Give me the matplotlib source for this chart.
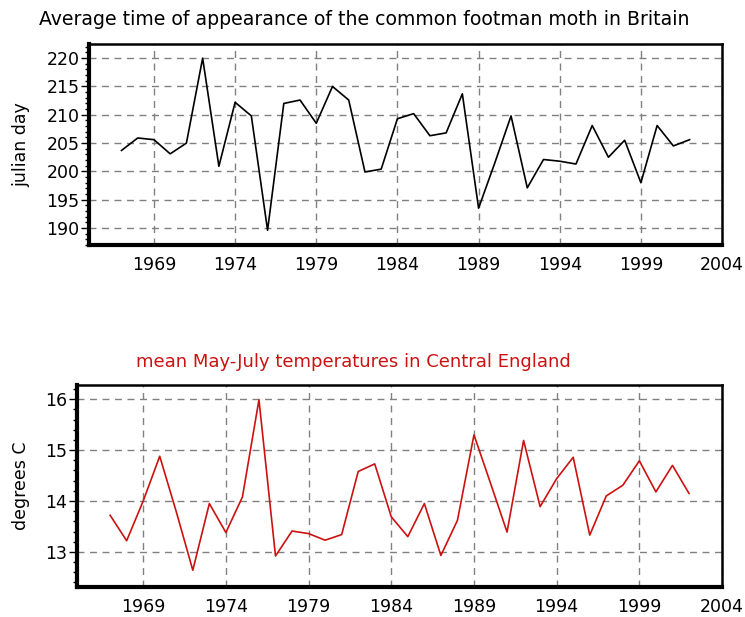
import matplotlib
matplotlib.use("Agg")
from matplotlib import pyplot as plt
from matplotlib.ticker import MultipleLocator

years = list(range(1967, 2003))

# mean day of first appearance (julian day)
julian_day = [203.7, 205.9, 205.6, 203.1, 205.0, 220.0, 200.9, 212.2, 209.8, 189.6,
              212.0, 212.6, 208.5, 215.0, 212.6, 199.9, 200.4, 209.3, 210.2, 206.3,
              206.8, 213.7, 193.5, 201.5, 209.8, 197.1, 202.1, 201.8, 201.3, 208.1,
              202.5, 205.5, 198.0, 208.1, 204.5, 205.6]

# mean May-July temperature, degrees C
temps = [13.72, 13.22, 14.0, 14.88, 13.79, 12.64, 13.95, 13.38, 14.08, 15.99,
         12.92, 13.41, 13.36, 13.23, 13.34, 14.58, 14.73, 13.69, 13.3, 13.95,
         12.93, 13.62, 15.3, 14.35, 13.39, 15.19, 13.89, 14.44, 14.86, 13.33,
         14.1, 14.31, 14.79, 14.18, 14.7, 14.15]

x_ticks = [1969, 1974, 1979, 1984, 1989, 1994, 1999, 2004]

plt.rcParams['font.family'] = ['DejaVu Sans']

fig = plt.figure(figsize=(7.45, 6.17), dpi=100)
ax1 = fig.add_axes([0.1195, 0.6029, 0.8497, 0.3258])
ax2 = fig.add_axes([0.1034, 0.0486, 0.8658, 0.3274])


def style_axes(ax):
    ax.set_xlim(1965, 2004)
    ax.set_xticks(x_ticks)
    ax.grid(True, color='#808080', linestyle=(0, (5, 4)), linewidth=1)
    for side in ['left', 'bottom']:
        ax.spines[side].set_linewidth(3)
    for side in ['top', 'right']:
        ax.spines[side].set_linewidth(1.8)
    ax.tick_params(axis='x', length=0, pad=8, labelsize=12.5)
    ax.tick_params(axis='y', which='major', length=6, width=1, direction='out', labelsize=12.5, pad=1)
    ax.tick_params(axis='y', which='minor', length=3, width=1, direction='out')


ax1.plot(years, julian_day, color='black', linewidth=1.2)
style_axes(ax1)
ax1.set_ylim(187, 222.5)
ax1.yaxis.set_major_locator(MultipleLocator(5))
ax1.yaxis.set_minor_locator(MultipleLocator(1))
ax1.set_ylabel('julian day', fontsize=12.5)
ax1.yaxis.set_label_coords(-0.093, 0.5)
fig.text(0.052, 0.968, 'Average time of appearance of the common footman moth in Britain',
         fontsize=13.6, ha='left', va='center')

ax2.plot(years, temps, color='#cc1111', linewidth=1.2)
style_axes(ax2)
ax2.set_ylim(12.31, 16.28)
ax2.yaxis.set_major_locator(MultipleLocator(1))
ax2.yaxis.set_minor_locator(MultipleLocator(0.2))
ax2.set_ylabel('degrees C', fontsize=12.5)
ax2.yaxis.set_label_coords(-0.073, 0.5)
fig.text(0.475, 0.413, 'mean May-July temperatures in Central England',
         fontsize=13, ha='center', va='center', color='#cc1111')

fig.savefig('out.png', dpi=100)
